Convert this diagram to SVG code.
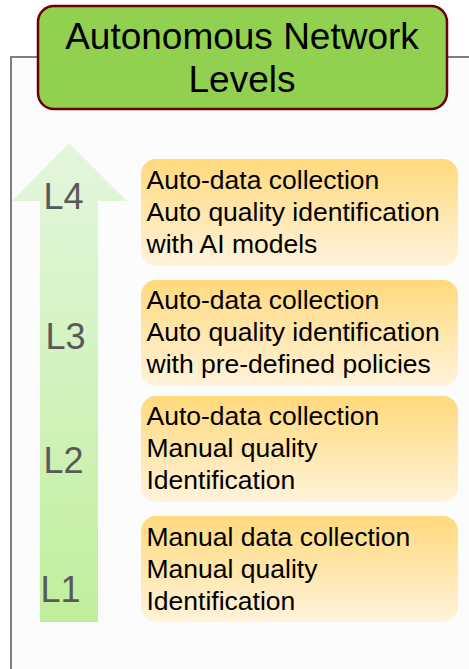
<svg xmlns="http://www.w3.org/2000/svg" width="469" height="669" viewBox="0 0 469 669">
<defs>
<linearGradient id="arrowGrad" x1="0" y1="0" x2="0" y2="1">
<stop offset="0" stop-color="#e4f6de"/>
<stop offset="1" stop-color="#c0ef9c"/>
</linearGradient>
<linearGradient id="boxGrad" x1="0" y1="0" x2="0" y2="1">
<stop offset="0" stop-color="#ffd97c"/>
<stop offset="1" stop-color="#fff3db"/>
</linearGradient>
<style>
.box{fill:url(#boxGrad);}
.bt{font-family:"Liberation Sans",Arial,sans-serif;font-size:26.5px;fill:#000;}
.lvl{font-family:"Liberation Sans",Arial,sans-serif;font-size:36px;fill:#595959;}
.title{font-family:"Liberation Sans",Arial,sans-serif;font-size:37px;fill:#000;text-anchor:middle;}
</style>
</defs>
<rect width="469" height="669" fill="#ffffff"/>
<g id="frame">
<rect x="11" y="57" width="480" height="640" fill="#fcfcfc" stroke="#7f7f7f" stroke-width="2"/>
</g>
<g id="title">
<rect x="38" y="6" width="409" height="103" rx="16" ry="16" fill="#92d050" stroke="#6b0000" stroke-width="2.5"/>
<text class="title" x="242" y="49">Autonomous Network</text>
<text class="title" x="242" y="92">Levels</text>
</g>
<g id="arrow">
<polygon points="40,622 98,622 98,201 127,201 69,143 12,201 40,201" fill="url(#arrowGrad)"/>
<text class="lvl" x="43.5" y="209">L4</text>
<text class="lvl" x="45.5" y="349">L3</text>
<text class="lvl" x="43.5" y="473">L2</text>
<text class="lvl" x="40.5" y="602">L1</text>
</g>
<g id="connectors"></g>
<g id="box-l4">
<rect class="box" x="141" y="159" width="317" height="107" rx="15" ry="15"/>
<text class="bt" x="146.5" y="189">Auto-data collection</text>
<text class="bt" x="146.5" y="221">Auto quality identification</text>
<text class="bt" x="146.5" y="253">with AI models</text>
</g>
<g id="box-l3">
<rect class="box" x="141" y="280" width="317" height="106" rx="15" ry="15"/>
<text class="bt" x="146.5" y="309">Auto-data collection</text>
<text class="bt" x="146.5" y="341">Auto quality identification</text>
<text class="bt" x="146.5" y="373">with pre-defined policies</text>
</g>
<g id="box-l2">
<rect class="box" x="141" y="396" width="317" height="106" rx="15" ry="15"/>
<text class="bt" x="146.5" y="425">Auto-data collection</text>
<text class="bt" x="146.5" y="457">Manual quality</text>
<text class="bt" x="146.5" y="489">Identification</text>
</g>
<g id="box-l1">
<rect class="box" x="141" y="516" width="317" height="106" rx="15" ry="15"/>
<text class="bt" x="146.5" y="546">Manual data collection</text>
<text class="bt" x="146.5" y="578">Manual quality</text>
<text class="bt" x="146.5" y="610">Identification</text>
</g>
</svg>
